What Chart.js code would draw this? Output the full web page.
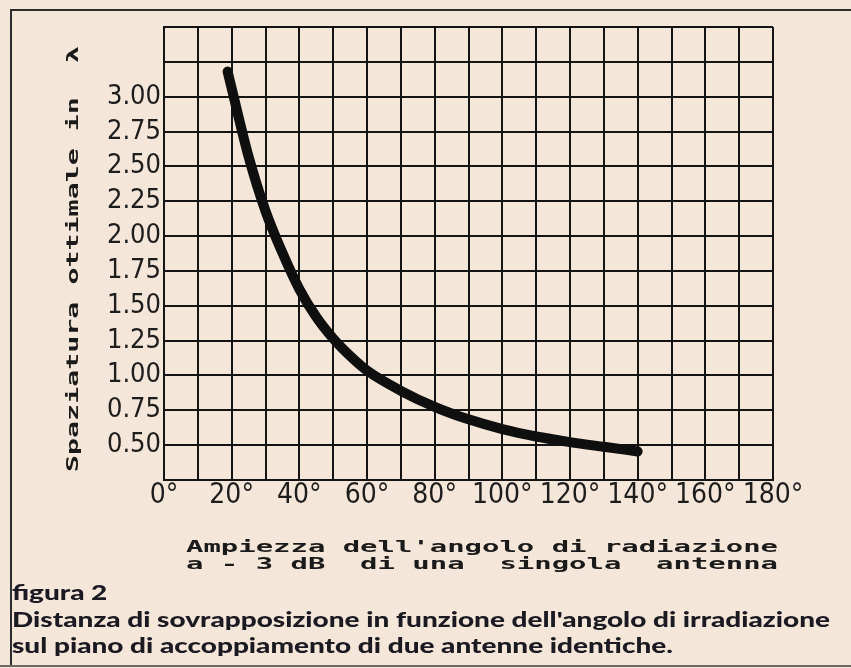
<!DOCTYPE html>
<html lang="it">
<head>
<meta charset="utf-8">
<title>figura 2</title>
<script src="https://cdn.jsdelivr.net/npm/chart.js@4.4.1/dist/chart.umd.min.js"></script>
<style>
    html, body { margin: 0; padding: 0; background: #f4e6d8; }
    #chart { display: block; }
</style>
</head>
<body>
<canvas id="chart" width="851" height="668"></canvas>
<script>
// Beam width at -3 dB (degrees) and optimum stacking distance (wavelengths)
const angles  = [18.8, 20, 25, 30, 35, 40, 45, 50, 55, 60, 70, 80, 90, 100, 110, 120, 130, 140];
const spacing = [3.18, 3.06, 2.57, 2.18, 1.88, 1.62, 1.42, 1.265, 1.14, 1.035, 0.89, 0.775, 0.685, 0.615, 0.562, 0.522, 0.488, 0.455];

const xTickLabels = ['0°', '20°', '40°', '60°', '80°', '100°', '120°', '140°', '160°', '180°'];
const yTickLabels = ['0.50', '0.75', '1.00', '1.25', '1.50', '1.75', '2.00', '2.25', '2.50', '2.75', '3.00'];

const yTitle = 'Spaziatura ottimale in  λ';
const xTitle = ["Ampiezza dell'angolo di radiazione", 'a - 3 dB  di una  singola  antenna'];
const caption = [
    'figura 2',
    "Distanza di sovrapposizione in funzione dell'angolo di irradiazione",
    'sul piano di accoppiamento di due antenne identiche.'
];

const INK = '#141414';
const TICK_FONT = "'Liberation Sans Narrow', 'DejaVu Sans Condensed', 'Liberation Sans', sans-serif";
const MONO_FONT = "'DejaVu Sans Mono', 'Liberation Mono', monospace";
const CAPTION_FONT = "Lato, 'Noto Sans', sans-serif";

// draw text squeezed/stretched along its own direction to a given length
function fitText(ctx, text, width) {
    const w = ctx.measureText(text).width;
    ctx.save();
    ctx.scale(width / w, 1);
    ctx.fillText(text, 0, 0);
    ctx.restore();
}

const figureText = {
    id: 'figureText',
    afterDraw(chart) {
        const ctx = chart.ctx;
        ctx.save();

        // page frame
        ctx.strokeStyle = '#2b2b2b';
        ctx.lineWidth = 2;
        ctx.beginPath();
        ctx.moveTo(851, 10); ctx.lineTo(11, 10); ctx.lineTo(11, 666);
        ctx.stroke();
        ctx.strokeStyle = '#6d6a66';
        ctx.beginPath();
        ctx.moveTo(0, 666); ctx.lineTo(851, 666);
        ctx.stroke();

        ctx.fillStyle = '#1a1a1a';
        ctx.textBaseline = 'middle';
        ctx.textAlign = 'left';

        // vertical axis title, typewriter style
        ctx.font = 'bold 15px ' + MONO_FONT;
        ctx.save();
        ctx.translate(74, 472);
        ctx.rotate(-Math.PI / 2);
        fitText(ctx, yTitle, 426);
        ctx.restore();

        // horizontal axis title, two lines
        ctx.font = 'bold 16px ' + MONO_FONT;
        xTitle.forEach((line, i) => {
            ctx.save();
            ctx.translate(186, 548 + i * 17);
            fitText(ctx, line, 592);
            ctx.restore();
        });

        // caption under the figure
        ctx.fillStyle = '#1b1a22';
        ctx.textBaseline = 'alphabetic';
        ctx.font = '900 21px ' + CAPTION_FONT;
        const sx = 818 / ctx.measureText(caption[1]).width;
        caption.forEach((line, i) => {
            ctx.save();
            ctx.translate(12, [600, 627, 653][i]);
            ctx.scale(sx, 1);
            ctx.fillText(line, 0, 0);
            ctx.restore();
        });

        ctx.restore();
    }
};

new Chart(document.getElementById('chart'), {
    type: 'line',
    data: {
        datasets: [{
            data: angles.map((a, i) => ({ x: a, y: spacing[i] })),
            borderColor: '#0f0f0f',
            borderWidth: 10,
            borderCapStyle: 'round',
            borderJoinStyle: 'round',
            cubicInterpolationMode: 'monotone',
            pointRadius: 0,
            fill: false
        }]
    },
    options: {
        responsive: false,
        animation: false,
        devicePixelRatio: 1,
        layout: { padding: { left: 0, top: 27, right: 78, bottom: 148 } },
        plugins: { legend: { display: false }, tooltip: { enabled: false } },
        scales: {
            x: {
                type: 'linear',
                min: 0, max: 180,
                afterFit: s => { s.height = 40; },
                grid: { color: INK, lineWidth: 2, drawTicks: false },
                border: { color: INK, width: 2 },
                ticks: {
                    stepSize: 10,
                    padding: 2,
                    autoSkip: false,
                    maxRotation: 0,
                    color: '#1d1d1d',
                    font: { family: TICK_FONT, size: 28, lineHeight: 1 },
                    callback: v => (v % 20 === 0 ? xTickLabels[v / 20] : '')
                }
            },
            y: {
                type: 'linear',
                min: 0.25, max: 3.5,
                afterFit: s => { s.width = 164; },
                grid: { color: INK, lineWidth: 2, drawTicks: false },
                border: { color: INK, width: 2 },
                ticks: {
                    stepSize: 0.25,
                    padding: 3,
                    autoSkip: false,
                    color: '#1d1d1d',
                    font: { family: TICK_FONT, size: 27, lineHeight: 1 },
                    callback: v => {
                        const i = Math.round((v - 0.5) / 0.25);
                        return i >= 0 && i < yTickLabels.length ? yTickLabels[i] : '';
                    }
                }
            }
        }
    },
    plugins: [figureText]
});
</script>
</body>
</html>
